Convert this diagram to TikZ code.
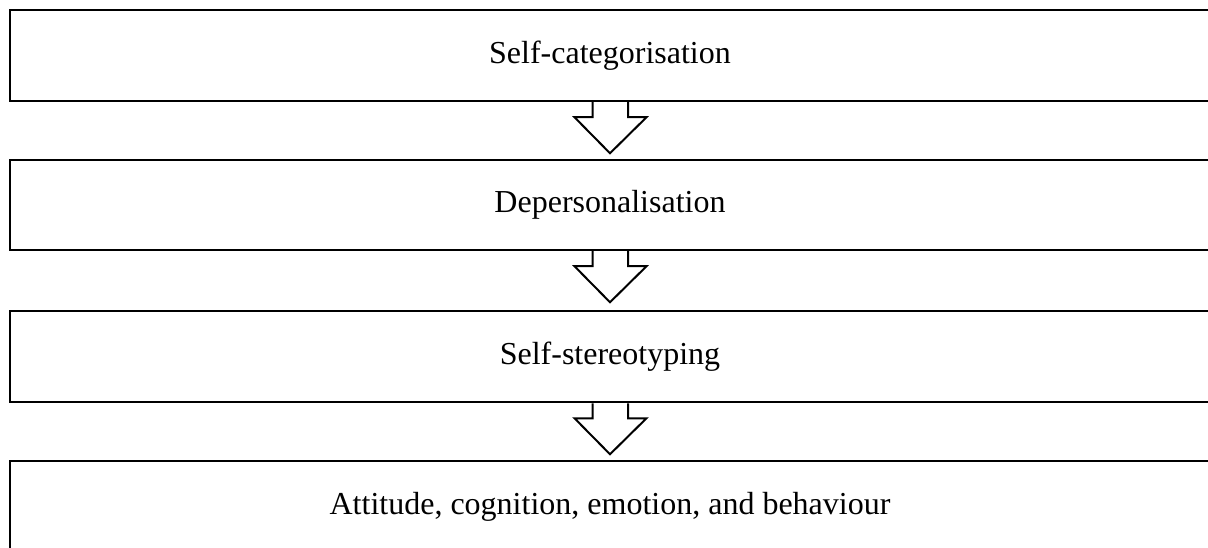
\documentclass[tikz,border=0pt]{standalone}
\usepackage{fontspec}
\setmainfont{Liberation Serif}
\begin{document}
\begin{tikzpicture}[x=1pt,y=-1pt,
  stagebox/.style={draw=black, line width=2.5pt, rectangle, minimum width=1200pt, inner sep=0pt,
    font=\fontsize{32}{38}\selectfont},
  downarrow/.style={draw=black, line width=2pt, line join=miter}]
\clip (0,0) rectangle (1208,548);
\node[stagebox, minimum height=91pt] (b1) at (610,55.5) {Self-categorisation};
\node[stagebox, minimum height=90pt] (b2) at (610,205) {Depersonalisation};
\node[stagebox, minimum height=91pt] (b3) at (610,356.5) {Self-stereotyping};
\node[stagebox, minimum height=91pt] (b4) at (610,506.5) {Attitude, cognition, emotion, and behaviour};
\foreach \s in {b1,b2,b3}{
  \draw[downarrow] ([xshift=-17.5pt]\s.south) -- ++(0,15) -- ++(-18,0) -- ++(35.5,36) -- ++(36.5,-36) -- ++(-18.5,0) -- ++(0,-15);
}
\end{tikzpicture}
\end{document}
